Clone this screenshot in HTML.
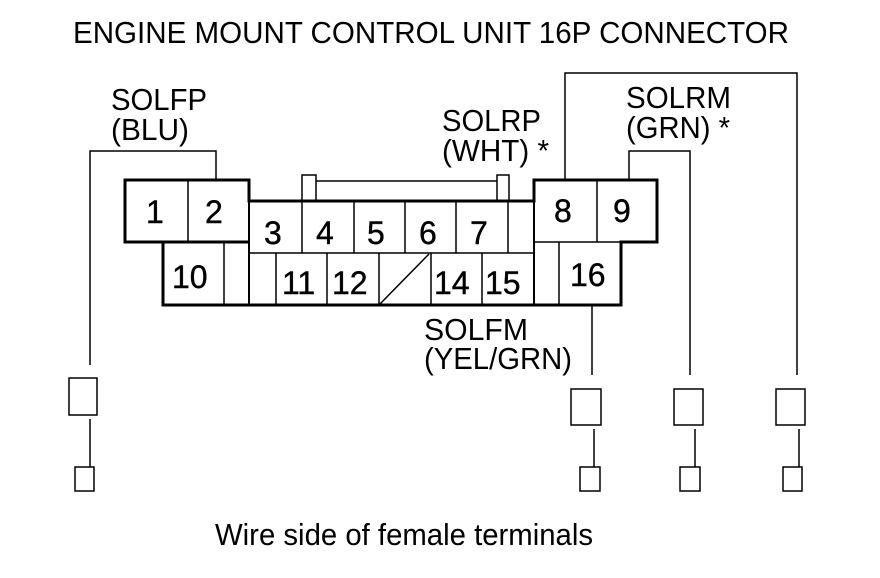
<!DOCTYPE html>
<html><head><meta charset="utf-8"><style>html,body{margin:0;padding:0;background:#fff}svg{display:block}</style></head>
<body>
<svg width="880" height="578" viewBox="0 0 880 578" xmlns="http://www.w3.org/2000/svg" font-family="'Liberation Sans', sans-serif" fill="#000">
<g font-size="31">
<text x="73" y="43" textLength="716" lengthAdjust="spacingAndGlyphs">ENGINE MOUNT CONTROL UNIT 16P CONNECTOR</text>
<text x="111" y="110" textLength="96" lengthAdjust="spacingAndGlyphs">SOLFP</text>
<text x="111" y="140" textLength="78" lengthAdjust="spacingAndGlyphs">(BLU)</text>
<text x="442" y="131" textLength="99" lengthAdjust="spacingAndGlyphs">SOLRP</text>
<text x="442" y="161" textLength="107" lengthAdjust="spacingAndGlyphs">(WHT) *</text>
<text x="626" y="108" textLength="105" lengthAdjust="spacingAndGlyphs">SOLRM</text>
<text x="626" y="138" textLength="104" lengthAdjust="spacingAndGlyphs">(GRN) *</text>
<text x="424" y="340" textLength="104" lengthAdjust="spacingAndGlyphs">SOLFM</text>
<text x="424" y="369" textLength="148" lengthAdjust="spacingAndGlyphs">(YEL/GRN)</text>
<text x="215" y="545" textLength="378" lengthAdjust="spacingAndGlyphs">Wire side of female terminals</text>
</g>
<g fill="none" stroke="#000" stroke-width="1.5">
<polyline points="216,179 216,151 90,151 90,365"/>
<polyline points="565,179 565,73 797,73 797,375"/>
<polyline points="629,179 629,151 690,151 690,375"/>
<line x1="592" y1="305" x2="592" y2="375"/>
<rect x="69" y="378" width="28" height="37"/>
<line x1="90" y1="419" x2="90" y2="467"/>
<rect x="75" y="467" width="19" height="24"/>
<rect x="571" y="389" width="30" height="36"/>
<line x1="594" y1="429" x2="594" y2="467"/>
<rect x="580" y="467" width="20" height="24"/>
<rect x="674" y="389" width="29" height="36"/>
<line x1="695" y1="429" x2="695" y2="467"/>
<rect x="680" y="467" width="20" height="24"/>
<rect x="776" y="389" width="29" height="36"/>
<line x1="799" y1="429" x2="799" y2="467"/>
<rect x="783" y="467" width="19" height="24"/>
<line x1="188" y1="179" x2="188" y2="242"/>
<line x1="224" y1="242" x2="224" y2="305"/>
<line x1="249" y1="253" x2="534" y2="253"/>
<line x1="302" y1="201" x2="302" y2="253"/>
<line x1="354" y1="201" x2="354" y2="253"/>
<line x1="405" y1="201" x2="405" y2="253"/>
<line x1="456" y1="201" x2="456" y2="253"/>
<line x1="508" y1="201" x2="508" y2="253"/>
<line x1="276" y1="253" x2="276" y2="305"/>
<line x1="327" y1="253" x2="327" y2="305"/>
<line x1="379" y1="253" x2="379" y2="305"/>
<line x1="431" y1="253" x2="431" y2="305"/>
<line x1="482" y1="253" x2="482" y2="305"/>
<line x1="379" y1="305" x2="429" y2="254"/>
<line x1="597" y1="179" x2="597" y2="242"/>
<line x1="559" y1="242" x2="559" y2="305"/>
<line x1="534" y1="242" x2="621" y2="242"/>
<rect x="302" y="175" width="14" height="26"/>
<rect x="497" y="175" width="12" height="26"/>
<line x1="316" y1="181" x2="497" y2="181"/>
</g>
<path d="M125,180 H249 V201 H534 V180 H657 V242 H621 V305 H163 V242 H125 Z" fill="none" stroke="#000" stroke-width="3"/>
<line x1="125" y1="242" x2="249" y2="242" stroke="#000" stroke-width="3"/>
<line x1="249" y1="201" x2="249" y2="305" stroke="#000" stroke-width="2"/>
<line x1="534" y1="201" x2="534" y2="305" stroke="#000" stroke-width="2"/>
<g font-size="32" stroke="#000" stroke-width="0.4">
<text x="146" y="223">1</text>
<text x="205" y="223">2</text>
<text x="264" y="244">3</text>
<text x="316" y="244">4</text>
<text x="367" y="244">5</text>
<text x="419" y="244">6</text>
<text x="470" y="244">7</text>
<text x="554" y="222">8</text>
<text x="613" y="222">9</text>
<text x="172" y="288">10</text>
<text x="282" y="294">11</text>
<text x="332" y="294">12</text>
<text x="434" y="294">14</text>
<text x="485" y="294">15</text>
<text x="570" y="286">16</text>
</g>
</svg>
</body></html>
